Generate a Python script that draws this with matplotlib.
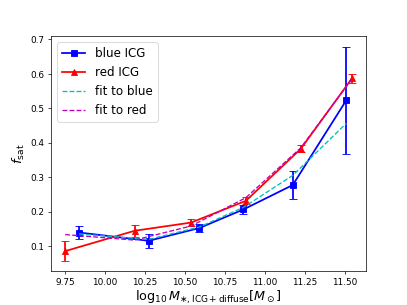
import numpy as np
import matplotlib
matplotlib.use("Agg")
import matplotlib.pyplot as plt

# blue ICG
x_blue = [9.837, 10.273, 10.59, 10.866, 11.175, 11.51]
f_blue = [0.139, 0.115, 0.152, 0.206, 0.277, 0.523]
err_blue = [0.018, 0.020, 0.012, 0.013, 0.042, 0.155]

# red ICG
x_red = [9.75, 10.184, 10.539, 10.881, 11.225, 11.546]
f_red = [0.085, 0.144, 0.168, 0.231, 0.382, 0.587]
err_red = [0.028, 0.018, 0.011, 0.010, 0.010, 0.014]

# fits
fit_blue = [0.135, 0.119, 0.155, 0.212, 0.305, 0.456]
fit_red = [0.133, 0.117, 0.158, 0.240, 0.385, 0.585]

fig = plt.figure(figsize=(6.4, 4.8), dpi=407 / 6.4)
ax = fig.add_subplot(111)

ax.plot(x_blue, f_blue, color='b', marker='s', ms=7, lw=2, label='blue ICG')
ax.errorbar(x_blue, f_blue, yerr=err_blue, fmt='none', ecolor='b', lw=2, capsize=5)
ax.plot(x_red, f_red, color='r', marker='^', ms=7, lw=2, label='red ICG')
ax.errorbar(x_red, f_red, yerr=err_red, fmt='none', ecolor='r', lw=2, capsize=5)
ax.plot(x_blue, fit_blue, 'c--', lw=1.5, label='fit to blue')
ax.plot(x_red, fit_red, 'm--', lw=1.5, label='fit to red')

ax.set_xlabel(r'$\log_{10}M_{\ast,\rm ICG+diffuse}[M_\odot]$', fontsize=14.5, labelpad=2)
ax.set_ylabel(r'$f_{\rm sat}$', fontsize=15)
ax.legend(loc='upper left', fontsize=13.5)

fig.savefig('out.png', dpi=407 / 6.4)
